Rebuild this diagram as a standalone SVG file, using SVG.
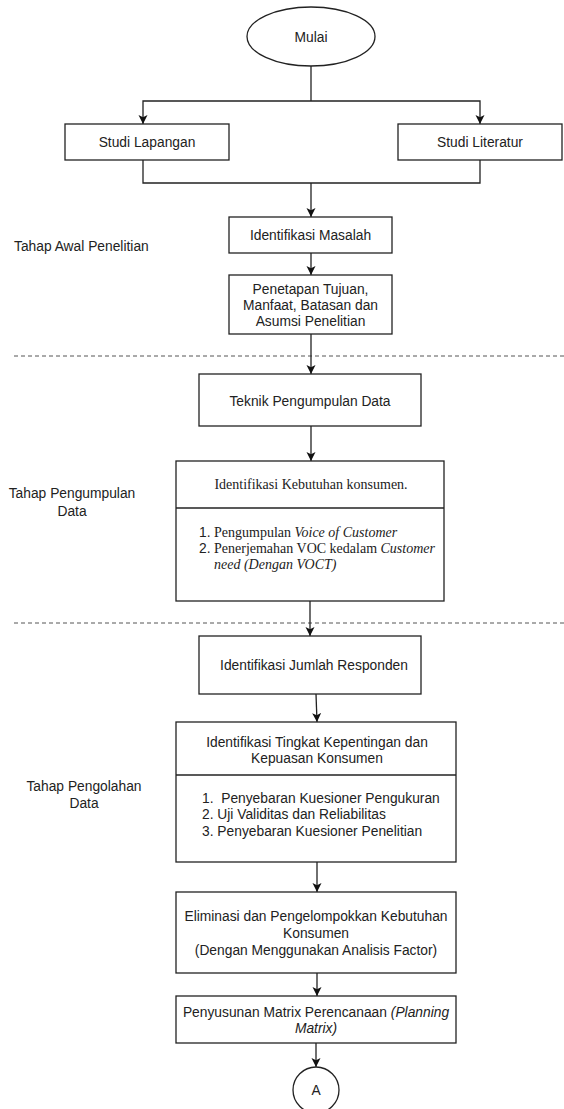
<svg xmlns="http://www.w3.org/2000/svg" width="564" height="1109" viewBox="0 0 564 1109">
<defs>
<style>
.box{fill:#fff;stroke:#222;stroke-width:1.3}
.ln{fill:none;stroke:#222;stroke-width:1.3}
.arr{fill:none;stroke:#222;stroke-width:1.3;marker-end:url(#ah)}
.dash{fill:none;stroke:#555;stroke-width:1;stroke-dasharray:4,3}
.t{font-family:"Liberation Sans",Arial,sans-serif;font-size:13.8px;fill:#222}
.c{text-anchor:middle}
.s{font-family:"Liberation Serif","Times New Roman",serif;font-size:14px;fill:#222}
.i{font-style:italic}
</style>
<marker id="ah" viewBox="0 0 10 10" refX="10" refY="5" markerWidth="9" markerHeight="10" markerUnits="userSpaceOnUse" orient="auto">
<path d="M0,0 L10,5 L0,10 L2.5,5 z" fill="#111"/>
</marker>
</defs>
<rect width="564" height="1109" fill="#fff"/>

<g id="separators">
<line class="dash" x1="14" y1="356" x2="564" y2="356"/>
<line class="dash" x1="14" y1="623" x2="564" y2="623"/>
</g>

<g id="connectors">
<polyline class="ln" points="311,66 311,101"/>
<polyline class="arr" points="311,101 143,101 143,124"/>
<polyline class="arr" points="311,101 480,101 480,124"/>
<polyline class="ln" points="143,160 143,183 480,183 480,160"/>
<polyline class="arr" points="311,183 311,217"/>
<polyline class="arr" points="311,253 311,275"/>
<polyline class="arr" points="311,334 311,374"/>
<polyline class="arr" points="311,426 311,461"/>
<polyline class="arr" points="310,601 310,636"/>
<polyline class="arr" points="316,694 317,722"/>
<polyline class="arr" points="317,862 317,892"/>
<polyline class="arr" points="317,973 317,996"/>
<polyline class="arr" points="316,1043 316,1067"/>
</g>

<g id="label-awal"><text class="t" x="14" y="251">Tahap Awal Penelitian</text></g>
<g id="label-pengumpulan">
<text class="t c" x="72" y="498">Tahap Pengumpulan</text>
<text class="t c" x="72" y="516">Data</text>
</g>
<g id="label-pengolahan">
<text class="t c" x="84" y="791">Tahap Pengolahan</text>
<text class="t c" x="84" y="808">Data</text>
</g>

<g id="mulai">
<ellipse class="box" cx="311" cy="36.5" rx="64" ry="29.5"/>
<text class="t c" x="311" y="41.5">Mulai</text>
</g>

<g id="studi-lapangan">
<rect class="box" x="65" y="124" width="164" height="36"/>
<text class="t c" x="147" y="147">Studi Lapangan</text>
</g>

<g id="studi-literatur">
<rect class="box" x="398" y="124" width="164" height="36"/>
<text class="t c" x="480" y="147">Studi Literatur</text>
</g>

<g id="identifikasi-masalah">
<rect class="box" x="229" y="217" width="163" height="36"/>
<text class="t c" x="310.5" y="240">Identifikasi Masalah</text>
</g>

<g id="penetapan">
<rect class="box" x="229" y="275" width="163" height="59"/>
<text class="t c" x="310.5" y="294">Penetapan Tujuan,</text>
<text class="t c" x="310.5" y="310">Manfaat, Batasan dan</text>
<text class="t c" x="310.5" y="326">Asumsi Penelitian</text>
</g>

<g id="teknik">
<rect class="box" x="199" y="374" width="222" height="52"/>
<text class="t c" x="310" y="406">Teknik Pengumpulan Data</text>
</g>

<g id="kebutuhan">
<rect class="box" x="176" y="461" width="268" height="140"/>
<line class="ln" x1="176" y1="508" x2="444" y2="508"/>
<text class="s c" x="311" y="489">Identifikasi Kebutuhan konsumen.</text>
<text class="t" x="199" y="537">1.</text>
<text class="s" x="214" y="537">Pengumpulan <tspan class="i">Voice of Customer</tspan></text>
<text class="t" x="199" y="553">2.</text>
<text class="s" x="214" y="553">Penerjemahan VOC kedalam <tspan class="i">Customer</tspan></text>
<text class="s i" x="214" y="569">need (Dengan VOCT)</text>
</g>

<g id="responden">
<rect class="box" x="199" y="636" width="222" height="58"/>
<text class="t c" x="314" y="670">Identifikasi Jumlah Responden</text>
</g>

<g id="tingkat">
<rect class="box" x="176" y="722" width="280" height="140"/>
<line class="ln" x1="176" y1="775" x2="456" y2="775"/>
<text class="t c" x="317" y="747">Identifikasi Tingkat Kepentingan dan</text>
<text class="t c" x="317" y="763">Kepuasan Konsumen</text>
<text class="t" x="202" y="803" xml:space="preserve">1.  Penyebaran Kuesioner Pengukuran</text>
<text class="t" x="202" y="819">2. Uji Validitas dan Reliabilitas</text>
<text class="t" x="202" y="836">3. Penyebaran Kuesioner Penelitian</text>
</g>

<g id="eliminasi">
<rect class="box" x="176" y="892" width="280" height="81"/>
<text class="t c" x="316" y="921">Eliminasi dan Pengelompokkan Kebutuhan</text>
<text class="t c" x="316" y="938">Konsumen</text>
<text class="t c" x="316" y="955">(Dengan Menggunakan Analisis Factor)</text>
</g>

<g id="penyusunan">
<rect class="box" x="176" y="996" width="280" height="47"/>
<text class="t c" x="316" y="1017">Penyusunan Matrix Perencanaan <tspan class="i">(Planning</tspan></text>
<text class="t c i" x="316" y="1033">Matrix)</text>
</g>

<g id="connector-a">
<circle class="box" cx="316" cy="1090" r="23"/>
<text class="t c" x="316" y="1095">A</text>
</g>
</svg>
